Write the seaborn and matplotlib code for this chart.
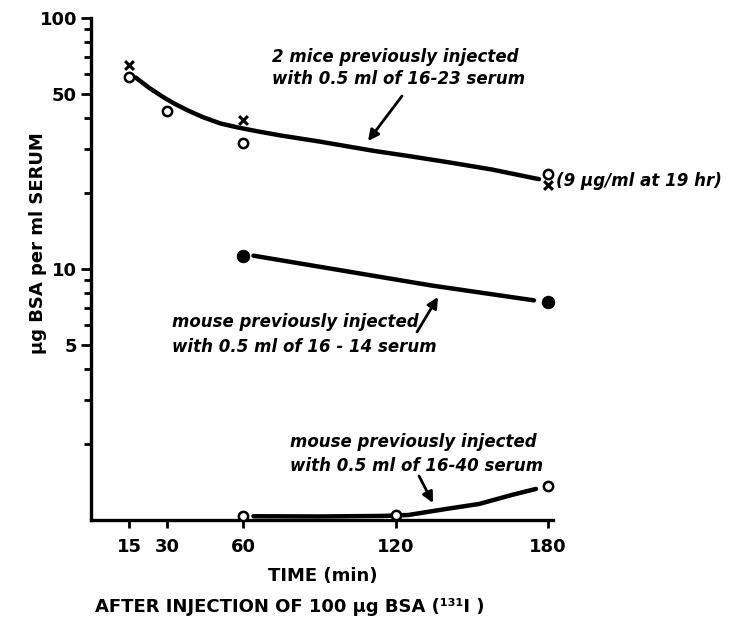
import matplotlib
matplotlib.use("Agg")
import matplotlib.pyplot as plt
import seaborn as sns
from matplotlib.ticker import FixedLocator, NullFormatter

# ---- data ----
t_1623_o = [15, 30, 60, 180]
y_1623_o = [58.0, 42.6, 31.9, 24.0]
t_1623_x = [15, 60, 180]
y_1623_x = [64.9, 39.4, 21.7]
curve_1623_t = [17.6, 23.0, 28.6, 33.0, 38.0, 44.0, 51.0, 58.0, 66.0, 75.0, 90.0, 111.0, 126.0, 141.0, 158.0, 173.7, 176.5]
curve_1623_y = [57.9, 52.6, 48.3, 45.5, 42.9, 40.3, 38.0, 36.6, 35.3, 34.0, 32.2, 29.6, 28.1, 26.6, 24.9, 23.1, 22.8]

t_1614 = [60, 180]
y_1614 = [11.3, 7.4]
curve_1614_t = [64.0, 134.0, 174.5]
curve_1614_y = [11.3, 8.6, 7.5]

t_1640 = [60, 120, 180]
y_1640 = [1.04, 1.045, 1.37]
curve_1640_t = [64.0, 90.0, 115.0, 125.0, 140.0, 153.0, 166.0, 175.3]
curve_1640_y = [1.035, 1.033, 1.038, 1.047, 1.107, 1.159, 1.26, 1.33]

x_ticks = [15, 30, 60, 120, 180]
y_major = [5, 10, 50, 100]
y_minor = [2, 3, 4, 6, 7, 8, 9, 20, 30, 40, 60, 70, 80, 90]

W, H = 737, 620

sns.set_style("ticks")
plt.rcParams['font.family'] = ['DejaVu Sans']
for k in ["text.color", "axes.labelcolor", "xtick.color", "ytick.color", "axes.edgecolor"]:
    plt.rcParams[k] = "black"

fig = plt.figure(figsize=(W / 100, H / 100), dpi=100)
ax = fig.add_axes([91 / W, 1 - 520 / H, (553 - 91) / W, (520 - 18) / H])

def P(x, y):
    return (x / W, 1 - y / H)

lw_curve = 3.2
sns.lineplot(x=curve_1623_t, y=curve_1623_y, sort=False, estimator=None, color="black", lw=lw_curve, ax=ax)
sns.lineplot(x=curve_1614_t, y=curve_1614_y, sort=False, estimator=None, color="black", lw=lw_curve, ax=ax)
sns.lineplot(x=curve_1640_t, y=curve_1640_y, sort=False, estimator=None, color="black", lw=lw_curve, ax=ax)

sns.scatterplot(x=t_1623_o, y=y_1623_o, marker="o", s=45, facecolor="white", edgecolor="black", linewidth=1.8, ax=ax, zorder=5, clip_on=False)
sns.scatterplot(x=t_1623_x, y=y_1623_x, marker="x", s=40, color="black", linewidth=2.2, ax=ax, zorder=5, clip_on=False)
sns.scatterplot(x=t_1614, y=y_1614, marker="o", s=80, color="black", edgecolor="black", ax=ax, zorder=5, clip_on=False)
sns.scatterplot(x=t_1640, y=y_1640, marker="o", s=45, facecolor="white", edgecolor="black", linewidth=1.8, ax=ax, zorder=5, clip_on=False)

ax.set_yscale("log")
ax.set_xlim(0, 182)
ax.set_ylim(1, 100)
ax.xaxis.set_major_locator(FixedLocator(x_ticks))
ax.set_xticklabels([str(v) for v in x_ticks])
ax.yaxis.set_major_locator(FixedLocator(y_major))
ax.set_yticklabels([str(v) for v in y_major])
ax.yaxis.set_minor_locator(FixedLocator(y_minor))
ax.yaxis.set_minor_formatter(NullFormatter())

for s in ["top", "right"]:
    ax.spines[s].set_visible(False)
for s in ["left", "bottom"]:
    ax.spines[s].set_linewidth(2.4)
    ax.spines[s].set_color("black")

ax.tick_params(axis="y", which="major", direction="out", length=7, width=2, labelsize=13, pad=3,
               left=True, color="black")
ax.tick_params(axis="y", which="minor", direction="out", length=5, width=2, left=True, color="black")
ax.tick_params(axis="x", which="major", direction="out", length=6, width=2, labelsize=13, pad=7,
               bottom=True, color="black")
for lab in ax.get_xticklabels() + ax.get_yticklabels():
    lab.set_fontweight("bold")
ax.set_xlabel("")
ax.set_ylabel("")

fig.text(*P(38, 243), "\u03bcg BSA per ml SERUM", rotation=90, ha="center", va="center",
         fontsize=13, fontweight="bold")
fig.text(*P(323, 576), "TIME (min)", ha="center", va="center", fontsize=13, fontweight="bold")
fig.text(*P(290, 607), "AFTER INJECTION OF 100 \u03bcg BSA (\u00b9\u00b3\u00b9I )", ha="center", va="center",
         fontsize=13, fontweight="bold")

tkw = dict(fontsize=12, fontweight="bold", style="italic", ha="left", va="center")
fig.text(*P(272, 57), "2 mice previously injected", **tkw)
fig.text(*P(272, 79), "with 0.5 ml of 16-23 serum", **tkw)
fig.text(*P(556, 181), "(9 \u03bcg/ml at 19 hr)", **tkw)
fig.text(*P(172, 322), "mouse previously injected", **tkw)
fig.text(*P(172, 347), "with 0.5 ml of 16 - 14 serum", **tkw)
fig.text(*P(290, 442), "mouse previously injected", **tkw)
fig.text(*P(290, 466), "with 0.5 ml of 16-40 serum", **tkw)

akw = dict(arrowstyle="-|>", lw=2, color="black", mutation_scale=16, shrinkA=0, shrinkB=0)
ax.annotate("", xy=P(368, 141), xytext=P(402, 96), xycoords="figure fraction",
            textcoords="figure fraction", arrowprops=akw)
ax.annotate("", xy=P(438, 297), xytext=P(417, 332), xycoords="figure fraction",
            textcoords="figure fraction", arrowprops=akw)
ax.annotate("", xy=P(433, 503), xytext=P(419, 476), xycoords="figure fraction",
            textcoords="figure fraction", arrowprops=akw)

fig.savefig("out.png", dpi=100)
